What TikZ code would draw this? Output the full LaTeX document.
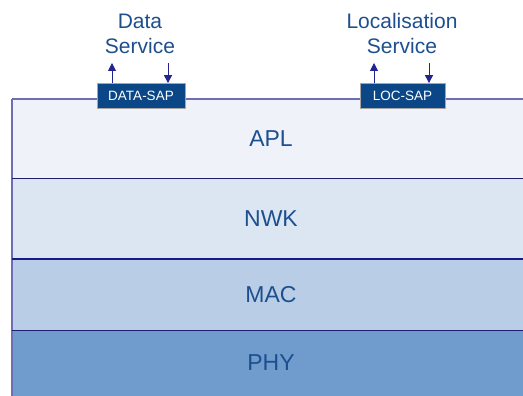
\documentclass[tikz,border=0pt]{standalone}
\usepackage{fontspec}
\setmainfont{Liberation Sans}
\usetikzlibrary{arrows.meta}
\definecolor{aplc}{HTML}{EFF3F9}
\definecolor{nwkc}{HTML}{DCE6F2}
\definecolor{macc}{HTML}{B9CDE6}
\definecolor{phyc}{HTML}{6F9BCD}
\definecolor{txtc}{HTML}{1D4F8F}
\definecolor{sapc}{HTML}{0B4786}
\definecolor{topc}{HTML}{6E6EB4}
\definecolor{divc}{HTML}{1F1F6E}
\definecolor{arrc}{HTML}{24248F}
\tikzset{
  layertxt/.style={text=txtc, font=\fontsize{23}{27}\selectfont},
  sapbox/.style={fill=sapc, draw=gray!70, line width=0.8pt, text=white, minimum width=88pt, minimum height=25pt, inner sep=0pt, font=\fontsize{13.5}{15}\selectfont},
  svc/.style={text=txtc, align=center, font=\fontsize{21}{25}\selectfont, inner sep=0pt},
  sarrow/.style={draw=arrc, line width=1pt, -{Triangle[length=8pt,width=8pt]}},
}
\begin{document}
\begin{tikzpicture}[x=1pt,y=-1pt]
\useasboundingbox (0,0) rectangle (523,396);
\fill[aplc] (12,99) rectangle (523,179);
\fill[nwkc] (12,179) rectangle (523,259);
\fill[macc] (12,259) rectangle (523,330);
\fill[phyc] (12,330) rectangle (523,396);
\draw[topc, line width=1.2pt] (12,99) -- (523,99);
\draw[topc, line width=1.2pt] (12,99) -- (12,396);
\draw[divc, line width=1pt] (12,179) -- (523,179);
\draw[divc!80!blue, line width=1.2pt] (12,259) -- (523,259);
\draw[divc, line width=0.8pt] (12,330) -- (523,330);
\node[layertxt] (apl) at (271,139) {APL};
\node[layertxt] (nwk) at (271,219) {NWK};
\node[layertxt] (mac) at (271,295) {MAC};
\node[layertxt] (phy) at (271,363) {PHY};
\node[sapbox] (dsap) at (141,96) {DATA-SAP};
\node[sapbox, minimum width=85pt] (lsap) at (402.5,96) {LOC-SAP};
\node[svc] (dsvc) at (140,33.5) {Data\\Service};
\node[svc] (lsvc) at (402,33.5) {Localisation\\Service};
\coordinate (d1) at (112,63);
\coordinate (d2) at (168,63);
\coordinate (l1) at (374,63);
\coordinate (l2) at (429,63);
\draw[sarrow] (dsap.north -| d1) -- (d1);
\draw[sarrow] (d2) -- (dsap.north -| d2);
\draw[sarrow] (lsap.north -| l1) -- (l1);
\draw[sarrow] (l2) -- (lsap.north -| l2);
\end{tikzpicture}
\end{document}
